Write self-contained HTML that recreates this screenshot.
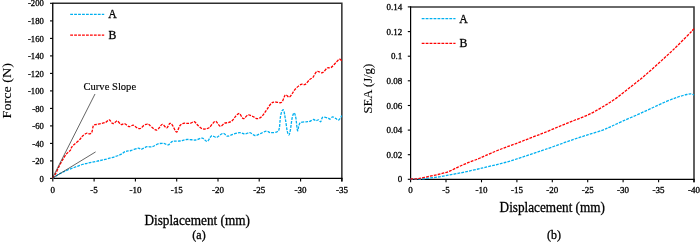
<!DOCTYPE html>
<html><head><meta charset="utf-8"><title>Force and SEA vs Displacement</title>
<style>
html,body{margin:0;padding:0;background:#fff;}
body{width:700px;height:242px;overflow:hidden;}
svg{display:block;}
text{font-family:"Liberation Serif","DejaVu Serif",serif;fill:#000;stroke:#000;stroke-width:0.2px;paint-order:stroke;filter:grayscale(1);}
.tk{font-size:9px;}
.ax{font-size:13.7px;}
.cap{font-size:12px;}
.lg{font-size:12.4px;}
.an{font-size:11px;stroke-width:0.15px;}
.ax,.cap,.lg,.tk{stroke-width:0.3px;}
.lgl{stroke-width:1.2 !important;}
.cv{fill:none;stroke-width:1.3;stroke-dasharray:2.8 1.15;stroke-linejoin:round;}
</style></head><body>
<svg width="700" height="242" viewBox="0 0 700 242">
<rect width="700" height="242" fill="#fff"/>

<g id="chartA">
<polyline points="52.75,3.35 341.85,3.35 341.85,181.40" fill="none" stroke="#2e2e2e" stroke-width="1.5"/>
<polyline points="52.75,3.35 52.75,178.40 341.85,178.40" fill="none" stroke="#000" stroke-width="1.3" stroke-linecap="square"/>
<g stroke="#000" stroke-width="1.1">
<line x1="50.0" y1="178.4" x2="52.8" y2="178.4"/>
<line x1="50.0" y1="160.9" x2="52.8" y2="160.9"/>
<line x1="50.0" y1="143.4" x2="52.8" y2="143.4"/>
<line x1="50.0" y1="125.9" x2="52.8" y2="125.9"/>
<line x1="50.0" y1="108.4" x2="52.8" y2="108.4"/>
<line x1="50.0" y1="90.9" x2="52.8" y2="90.9"/>
<line x1="50.0" y1="73.4" x2="52.8" y2="73.4"/>
<line x1="50.0" y1="55.9" x2="52.8" y2="55.9"/>
<line x1="50.0" y1="38.4" x2="52.8" y2="38.4"/>
<line x1="50.0" y1="20.9" x2="52.8" y2="20.9"/>
<line x1="50.0" y1="3.3" x2="52.8" y2="3.3"/>
<line x1="52.8" y1="178.4" x2="52.8" y2="181.4"/>
<line x1="94.1" y1="178.4" x2="94.1" y2="181.4"/>
<line x1="135.4" y1="178.4" x2="135.4" y2="181.4"/>
<line x1="176.7" y1="178.4" x2="176.7" y2="181.4"/>
<line x1="218.0" y1="178.4" x2="218.0" y2="181.4"/>
<line x1="259.2" y1="178.4" x2="259.2" y2="181.4"/>
<line x1="300.6" y1="178.4" x2="300.6" y2="181.4"/>
<line x1="341.9" y1="178.4" x2="341.9" y2="181.4"/>
</g>
<text class="tk" transform="translate(43.8,181.5) scale(0.96,1)" text-anchor="end">0</text>
<text class="tk" transform="translate(43.8,164.0) scale(0.96,1)" text-anchor="end">-20</text>
<text class="tk" transform="translate(43.8,146.5) scale(0.96,1)" text-anchor="end">-40</text>
<text class="tk" transform="translate(43.8,129.0) scale(0.96,1)" text-anchor="end">-60</text>
<text class="tk" transform="translate(43.8,111.5) scale(0.96,1)" text-anchor="end">-80</text>
<text class="tk" transform="translate(43.8,94.0) scale(0.96,1)" text-anchor="end">-100</text>
<text class="tk" transform="translate(43.8,76.5) scale(0.96,1)" text-anchor="end">-120</text>
<text class="tk" transform="translate(43.8,59.0) scale(0.96,1)" text-anchor="end">-140</text>
<text class="tk" transform="translate(43.8,41.5) scale(0.96,1)" text-anchor="end">-160</text>
<text class="tk" transform="translate(43.8,24.0) scale(0.96,1)" text-anchor="end">-180</text>
<text class="tk" transform="translate(43.8,6.4) scale(0.96,1)" text-anchor="end">-200</text>
<text class="tk" x="52.8" y="192.6" text-anchor="middle">0</text>
<text class="tk" x="94.1" y="192.6" text-anchor="middle">-5</text>
<text class="tk" x="135.4" y="192.6" text-anchor="middle">-10</text>
<text class="tk" x="176.7" y="192.6" text-anchor="middle">-15</text>
<text class="tk" x="218.0" y="192.6" text-anchor="middle">-20</text>
<text class="tk" x="259.2" y="192.6" text-anchor="middle">-25</text>
<text class="tk" x="300.6" y="192.6" text-anchor="middle">-30</text>
<text class="tk" x="341.9" y="192.6" text-anchor="middle">-35</text>
<path class="cv" stroke="#00b0f0" d="M52.5 178.3C52.9 178.0 54.0 177.3 55.0 176.6C56.0 175.9 57.5 174.9 58.7 174.2C59.9 173.5 61.0 173.1 62.4 172.4C63.8 171.7 65.6 170.8 67.3 170.1C69.0 169.4 70.6 168.8 72.3 168.2C74.0 167.6 75.6 166.9 77.3 166.3C79.0 165.7 80.5 165.0 82.2 164.5C83.9 164.0 85.6 163.7 87.2 163.3C88.8 162.9 90.4 162.5 92.1 162.2C93.8 161.8 95.4 161.5 97.1 161.2C98.8 160.8 100.3 160.5 102.0 160.1C103.7 159.7 105.3 159.4 107.5 158.8C109.7 158.2 112.9 157.3 115.1 156.6C117.3 155.9 119.2 155.2 120.9 154.4C122.6 153.6 123.6 152.2 125.3 151.5C127.0 150.8 128.8 151.1 131.0 150.5C133.2 149.9 136.6 148.4 138.3 148.2C140.0 148.0 139.8 149.6 141.2 149.3C142.6 149.1 145.2 147.1 147.0 146.7C148.8 146.3 150.4 147.3 152.2 146.8C154.0 146.3 156.1 144.5 158.0 143.9C159.9 143.3 162.1 143.2 163.8 143.4C165.5 143.6 166.8 145.2 168.2 144.9C169.6 144.6 170.6 142.1 172.5 141.4C174.4 140.8 177.3 141.3 179.7 141.0C182.1 140.7 184.3 139.7 187.0 139.5C189.7 139.3 193.2 140.2 195.7 140.0C198.2 139.8 200.3 137.9 202.2 138.1C204.1 138.3 205.6 141.8 207.2 141.4C208.8 141.0 210.0 136.6 211.6 135.9C213.2 135.2 214.7 137.8 216.6 137.4C218.5 137.0 221.3 133.5 223.1 133.3C224.9 133.1 225.8 136.0 227.5 136.2C229.2 136.3 231.2 134.8 233.3 134.2C235.4 133.6 237.9 132.8 239.8 132.7C241.8 132.6 243.3 133.9 245.0 133.9C246.7 133.9 248.2 132.4 249.9 132.7C251.6 133.0 253.2 135.3 254.9 135.5C256.6 135.7 257.9 134.6 259.8 133.9C261.7 133.2 264.6 131.3 266.4 131.1C268.2 130.9 268.8 132.6 270.6 132.7C272.4 132.8 275.8 132.5 277.2 131.7C278.6 130.9 278.8 130.6 279.3 128.1C279.9 125.6 280.0 119.4 280.5 116.5C281.0 113.6 281.6 111.7 282.1 110.7C282.7 109.7 283.2 109.2 283.8 110.7C284.4 112.2 284.9 116.5 285.5 119.8C286.1 123.1 286.6 128.1 287.1 130.6C287.7 133.1 288.2 135.1 288.8 135.0C289.4 134.9 289.8 132.6 290.4 129.8C290.9 127.0 291.5 121.0 292.1 118.2C292.7 115.4 293.6 112.9 294.2 112.9C294.8 112.9 295.3 115.2 295.9 118.2C296.4 121.2 297.0 129.2 297.5 130.6C298.0 132.0 298.2 127.7 298.7 126.4C299.2 125.1 299.1 123.6 300.3 122.8C301.5 122.0 304.6 122.0 306.1 121.8C307.6 121.6 308.1 121.9 309.4 121.5C310.6 121.1 312.5 119.6 313.6 119.5C314.7 119.4 315.2 120.7 316.0 120.7C316.8 120.8 317.7 119.6 318.5 119.8C319.3 120.0 320.0 122.2 320.7 121.8C321.4 121.4 321.5 118.1 322.6 117.4C323.8 116.8 326.4 117.6 327.6 117.9C328.9 118.2 329.3 119.2 330.1 119.0C330.9 118.8 331.6 117.0 332.6 116.9C333.6 116.8 334.9 118.0 335.9 118.5C336.8 119.0 337.5 120.4 338.3 120.2C339.1 120.0 340.2 118.2 340.8 117.4C341.4 116.6 341.6 115.8 341.7 115.5"/>
<path class="cv" stroke="#ff0000" d="M52.5 178.3C52.9 177.7 54.2 176.2 55.0 174.8C55.8 173.4 56.6 171.7 57.4 170.0C58.2 168.3 59.1 166.4 59.9 164.8C60.7 163.2 61.5 161.7 62.4 160.2C63.3 158.7 64.3 157.0 65.2 155.7C66.1 154.4 67.0 153.5 67.8 152.6C68.6 151.7 69.6 151.3 70.3 150.4C71.0 149.5 71.1 148.1 71.7 147.2C72.3 146.2 72.7 145.8 73.9 144.7C75.1 143.6 77.5 141.8 78.9 140.4C80.4 139.0 81.3 137.2 82.6 136.0C83.9 134.8 85.7 133.5 86.9 133.2C88.1 132.8 89.0 134.2 89.8 133.9C90.6 133.7 91.4 133.1 92.0 131.7C92.6 130.3 92.7 126.8 93.4 125.6C94.1 124.4 95.1 124.8 96.3 124.5C97.5 124.2 99.1 124.1 100.7 123.7C102.3 123.3 104.3 123.0 105.7 122.3C107.1 121.6 108.2 119.6 109.3 119.8C110.4 120.0 111.3 122.8 112.2 123.3C113.1 123.8 113.6 123.4 114.4 123.0C115.2 122.6 116.2 120.7 117.3 120.9C118.4 121.2 119.7 124.0 120.9 124.5C122.1 125.0 123.2 123.4 124.5 123.7C125.8 124.0 127.5 126.3 128.9 126.6C130.3 126.8 131.9 125.0 133.2 125.2C134.5 125.4 135.6 127.2 136.8 127.7C138.0 128.2 139.2 128.9 140.4 128.5C141.6 128.1 143.0 125.9 144.1 125.2C145.2 124.5 146.2 124.2 147.0 124.1C147.8 123.9 147.7 123.7 148.6 124.3C149.5 124.9 150.9 126.5 152.2 127.5C153.5 128.5 155.1 130.1 156.3 130.1C157.5 130.1 158.5 128.5 159.5 127.5C160.5 126.5 161.2 124.2 162.4 124.3C163.6 124.3 165.4 127.9 166.7 127.8C167.9 127.7 168.9 123.8 169.9 123.4C170.9 123.0 171.4 123.8 172.5 125.3C173.6 126.8 175.3 132.0 176.5 132.1C177.7 132.2 178.6 127.5 179.7 126.0C180.8 124.5 182.1 123.8 183.3 123.4C184.5 123.0 185.8 123.4 187.0 123.4C188.2 123.4 189.4 123.5 190.6 123.2C191.8 122.9 193.0 121.4 194.2 121.7C195.4 122.0 196.5 124.1 197.8 125.3C199.1 126.5 200.9 128.1 202.2 128.7C203.5 129.3 204.6 129.1 205.8 128.9C207.0 128.7 208.2 128.4 209.4 127.5C210.6 126.5 211.9 124.2 213.0 123.2C214.1 122.2 214.7 120.9 215.9 121.4C217.1 121.9 218.9 126.0 220.3 126.3C221.8 126.6 223.2 123.8 224.6 123.2C226.0 122.6 227.6 122.9 228.9 122.4C230.2 121.9 231.4 121.4 232.6 120.3C233.8 119.2 235.0 116.7 236.2 115.6C237.3 114.5 238.3 113.1 239.5 113.6C240.7 114.1 242.0 118.5 243.4 118.7C244.8 118.9 246.4 115.4 248.0 115.0C249.6 114.6 251.1 115.7 252.7 116.3C254.2 116.9 255.8 118.7 257.3 118.7C258.9 118.7 260.4 117.8 262.0 116.3C263.6 114.8 265.1 112.0 266.7 109.8C268.2 107.6 269.9 104.6 271.3 103.3C272.7 102.0 273.3 102.2 275.0 102.0C276.7 101.8 279.9 103.5 281.6 102.3C283.3 101.1 284.1 95.8 285.3 94.9C286.5 94.0 287.9 97.2 289.0 97.1C290.1 97.0 290.7 95.7 291.8 94.3C292.9 92.9 294.0 90.3 295.6 88.7C297.2 87.1 299.6 85.1 301.2 84.4C302.8 83.7 303.8 85.2 305.2 84.4C306.6 83.6 308.2 80.9 309.5 79.7C310.8 78.5 311.9 78.4 313.2 77.0C314.4 75.6 315.4 72.1 317.0 71.4C318.6 70.7 320.8 73.3 322.5 72.7C324.2 72.1 325.8 68.8 327.2 68.0C328.6 67.2 329.5 68.5 330.9 67.7C332.3 66.9 334.1 64.4 335.5 63.0C336.9 61.6 338.3 59.7 339.3 59.3C340.3 58.9 341.3 60.5 341.7 60.8"/>
<line x1="52.3" y1="178.3" x2="95" y2="94" stroke="#222" stroke-width="0.7"/>
<line x1="52.3" y1="178.3" x2="95.6" y2="151.9" stroke="#222" stroke-width="0.7"/>
<line class="cv lgl" stroke="#00b0f0" x1="70.2" y1="14.3" x2="104.2" y2="14.3"/>
<line class="cv lgl" stroke="#ff0000" x1="70.2" y1="35.2" x2="104.2" y2="35.2"/>
<text class="lg" transform="translate(108.2,18.2) scale(0.95,1)">A</text>
<text class="lg" transform="translate(108.5,39.2) scale(0.95,1)">B</text>
<text class="an" x="83.5" y="90.4" textLength="52.6" lengthAdjust="spacingAndGlyphs">Curve Slope</text>
<text class="ax" x="197.2" y="225" text-anchor="middle" textLength="105.6" lengthAdjust="spacingAndGlyphs">Displacement (mm)</text>
<text class="cap" x="199" y="239.4" text-anchor="middle">(a)</text>
<text class="ax" style="font-size:13.4px;stroke-width:0.1px" transform="translate(10.7,90.8) rotate(-90)" text-anchor="middle" textLength="55.3" lengthAdjust="spacingAndGlyphs">Force (N)</text>
</g>
<g id="chartB">
<polyline points="410.60,6.95 694.00,6.95 694.00,182.35" fill="none" stroke="#3a3a3a" stroke-width="1.6"/>
<polyline points="410.60,6.95 410.60,179.35 694.00,179.35" fill="none" stroke="#000" stroke-width="1.2" stroke-linecap="square"/>
<g stroke="#000" stroke-width="1.1">
<line x1="407.8" y1="179.3" x2="410.6" y2="179.3"/>
<line x1="407.8" y1="154.7" x2="410.6" y2="154.7"/>
<line x1="407.8" y1="130.1" x2="410.6" y2="130.1"/>
<line x1="407.8" y1="105.5" x2="410.6" y2="105.5"/>
<line x1="407.8" y1="80.8" x2="410.6" y2="80.8"/>
<line x1="407.8" y1="56.2" x2="410.6" y2="56.2"/>
<line x1="407.8" y1="31.6" x2="410.6" y2="31.6"/>
<line x1="407.8" y1="6.9" x2="410.6" y2="6.9"/>
<line x1="410.6" y1="179.3" x2="410.6" y2="182.3"/>
<line x1="446.0" y1="179.3" x2="446.0" y2="182.3"/>
<line x1="481.5" y1="179.3" x2="481.5" y2="182.3"/>
<line x1="516.9" y1="179.3" x2="516.9" y2="182.3"/>
<line x1="552.3" y1="179.3" x2="552.3" y2="182.3"/>
<line x1="587.7" y1="179.3" x2="587.7" y2="182.3"/>
<line x1="623.1" y1="179.3" x2="623.1" y2="182.3"/>
<line x1="658.6" y1="179.3" x2="658.6" y2="182.3"/>
<line x1="694.0" y1="179.3" x2="694.0" y2="182.3"/>
</g>
<text class="tk" x="402.3" y="182.4" text-anchor="end">0</text>
<text class="tk" x="402.3" y="157.8" text-anchor="end">0.02</text>
<text class="tk" x="402.3" y="133.2" text-anchor="end">0.04</text>
<text class="tk" x="402.3" y="108.6" text-anchor="end">0.06</text>
<text class="tk" x="402.3" y="83.9" text-anchor="end">0.08</text>
<text class="tk" x="402.3" y="59.3" text-anchor="end">0.1</text>
<text class="tk" x="402.3" y="34.7" text-anchor="end">0.12</text>
<text class="tk" x="402.3" y="10.0" text-anchor="end">0.14</text>
<text class="tk" x="410.6" y="193.3" text-anchor="middle">0</text>
<text class="tk" x="446.0" y="193.3" text-anchor="middle">-5</text>
<text class="tk" x="481.5" y="193.3" text-anchor="middle">-10</text>
<text class="tk" x="516.9" y="193.3" text-anchor="middle">-15</text>
<text class="tk" x="552.3" y="193.3" text-anchor="middle">-20</text>
<text class="tk" x="587.7" y="193.3" text-anchor="middle">-25</text>
<text class="tk" x="623.1" y="193.3" text-anchor="middle">-30</text>
<text class="tk" x="658.6" y="193.3" text-anchor="middle">-35</text>
<text class="tk" x="694.0" y="193.3" text-anchor="middle">-40</text>
<path class="cv" stroke="#00b0f0" d="M410.5 179.0C411.8 179.0 415.1 179.3 418.0 179.2C420.9 179.1 424.7 178.6 428.0 178.2C431.3 177.8 434.7 177.5 438.0 177.0C441.3 176.5 444.7 175.8 448.0 175.2C451.3 174.6 454.7 174.1 458.0 173.4C461.3 172.8 464.7 172.0 468.0 171.3C471.3 170.6 475.2 169.7 478.0 169.0C480.8 168.3 482.2 168.1 485.0 167.4C487.8 166.7 491.7 165.8 495.0 165.0C498.3 164.2 501.7 163.4 505.0 162.5C508.3 161.6 511.7 160.6 515.0 159.5C518.3 158.4 521.7 157.3 525.0 156.2C528.3 155.1 531.7 154.0 535.0 152.9C538.3 151.8 540.9 150.9 545.0 149.5C549.1 148.1 554.7 146.1 559.5 144.4C564.3 142.7 569.1 140.9 573.9 139.3C578.7 137.7 583.6 136.1 588.4 134.6C593.2 133.1 598.9 131.5 602.8 130.1C606.6 128.7 608.1 127.8 611.5 126.3C614.9 124.8 618.8 122.8 623.1 120.9C627.4 119.0 632.7 116.9 637.5 114.7C642.3 112.5 647.2 110.2 652.0 108.0C656.8 105.8 662.2 103.2 666.5 101.4C670.8 99.6 674.6 98.2 678.0 97.0C681.4 95.8 684.5 95.0 686.7 94.5C688.9 94.0 689.8 93.8 691.0 93.9C692.2 94.0 693.6 94.8 694.1 95.0"/>
<path class="cv" stroke="#ff0000" d="M410.5 179.0C411.8 178.9 415.1 179.1 418.0 178.7C420.9 178.3 424.7 177.3 428.0 176.6C431.3 175.9 434.7 175.3 438.0 174.5C441.3 173.7 444.7 173.0 448.0 171.8C451.3 170.6 454.7 168.6 458.0 167.1C461.3 165.6 464.7 164.1 468.0 162.7C471.3 161.3 475.2 160.1 478.0 158.9C480.8 157.8 482.2 157.0 485.0 155.8C487.8 154.6 491.7 152.9 495.0 151.5C498.3 150.1 501.7 148.8 505.0 147.6C508.3 146.3 511.7 145.2 515.0 144.0C518.3 142.8 521.7 141.4 525.0 140.1C528.3 138.8 531.7 137.5 535.0 136.2C538.3 134.9 540.9 134.1 545.0 132.4C549.1 130.8 554.7 128.3 559.5 126.3C564.3 124.3 569.1 122.4 573.9 120.5C578.7 118.6 583.6 117.0 588.4 114.7C593.2 112.4 598.0 109.7 602.8 106.8C607.6 103.9 612.5 100.9 617.3 97.4C622.1 93.9 627.3 89.6 631.8 86.0C636.3 82.4 640.0 79.6 644.5 75.8C649.0 72.0 654.1 67.4 658.9 63.0C663.7 58.6 668.6 54.2 673.4 49.6C678.2 45.0 684.4 38.7 687.9 35.2C691.4 31.7 693.1 29.7 694.1 28.6"/>
<line class="cv lgl" stroke="#00b0f0" x1="421.7" y1="18.65" x2="455.5" y2="18.65"/>
<line class="cv lgl" stroke="#ff0000" x1="421.7" y1="43.3" x2="455.5" y2="43.3"/>
<text class="lg" transform="translate(459.2,22.8) scale(0.95,1)">A</text>
<text class="lg" transform="translate(459.4,47.4) scale(0.95,1)">B</text>
<text class="ax" x="552.3" y="212" text-anchor="middle" textLength="105.4" lengthAdjust="spacingAndGlyphs">Displacement (mm)</text>
<text class="cap" x="554" y="239.4" text-anchor="middle">(b)</text>
<text class="ax" style="font-size:13.2px;stroke-width:0.1px" transform="translate(371.7,88.7) rotate(-90)" text-anchor="middle" textLength="49.8" lengthAdjust="spacingAndGlyphs">SEA (J/g)</text>
</g>
</svg>
</body></html>
